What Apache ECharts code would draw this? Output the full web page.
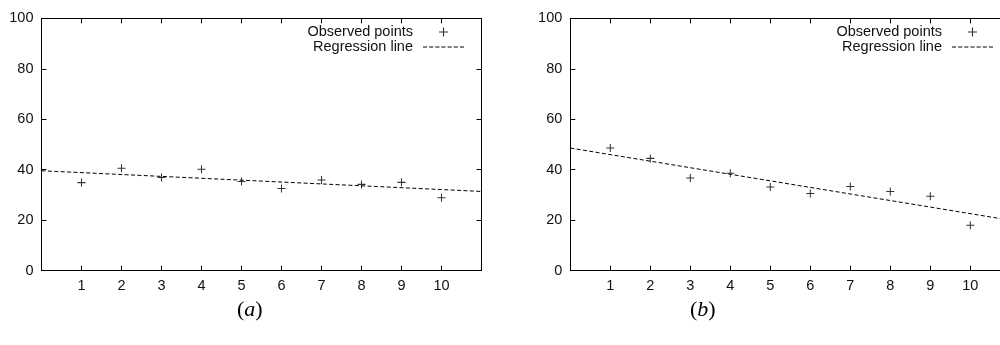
<!DOCTYPE html>
<html>
<head>
<meta charset="utf-8">
<script src="https://cdn.jsdelivr.net/npm/echarts@6/dist/echarts.min.js"></script>
<style>
html,body{margin:0;padding:0;background:#fff;}
#c{width:1000px;height:345px;}
</style>
</head>
<body>
<div id="c"></div>
<script>
// ---- data ----
var xValues = [1, 2, 3, 4, 5, 6, 7, 8, 9, 10];
var observedA = [34.9, 40.6, 36.9, 40.2, 35.3, 32.6, 35.9, 34.2, 35.0, 28.9];
var observedB = [48.6, 44.5, 36.7, 38.6, 33.2, 30.6, 33.4, 31.4, 29.5, 18.0];
var regressionA = [[0, 39.6], [11, 31.4]];
var regressionB = [[0, 48.6], [11, 20.0]];
var yTicks = [0, 20, 40, 60, 80, 100];
var xTickLabels = ['1','2','3','4','5','6','7','8','9','10'];
var captions = ['a', 'b'];
var legendNames = ['Observed points', 'Regression line'];

var FONT = 'Liberation Sans';
var plusPath = 'path://M4.35,0 h1.3 v4.35 h4.35 v1.3 h-4.35 v4.35 h-1.3 v-4.35 h-4.35 v-1.3 h4.35 z';
var dashPath = 'path://M0,0h4v1h-4z M6,0h4v1h-4z M12,0h4v1h-4z M18,0h4v1h-4z M24,0h4v1h-4z M30,0h4v1h-4z M36,0h4v1h-4z';

function pairs(vals) { return xValues.map(function (x, i) { return [x, vals[i]]; }); }

var grids = [
  { left: 41.5, top: 18.3, width: 440, height: 252.4, outerBoundsMode: 'none', containLabel: false },
  { left: 570.3, top: 18.3, width: 440, height: 252.4, outerBoundsMode: 'none', containLabel: false }
];

var xAxes = [], yAxes = [];
grids.forEach(function (g, gi) {
  ['bottom', 'top'].forEach(function (pos, k) {
    xAxes.push({
      type: 'value', gridIndex: gi, position: pos, min: 0, max: 11, interval: 1,
      axisLine: { show: true, onZero: false, lineStyle: { color: '#000', width: 1 } },
      axisTick: { show: true, inside: true, length: 5, lineStyle: { color: '#000' } },
      axisLabel: {
        show: k === 0, margin: 8, color: '#111', fontFamily: FONT, fontSize: 14.5,
        formatter: function (v) { var i = xValues.indexOf(v); return i >= 0 ? xTickLabels[i] : ''; }
      },
      splitLine: { show: false }
    });
  });
  ['left', 'right'].forEach(function (pos, k) {
    yAxes.push({
      type: 'value', gridIndex: gi, position: pos, min: yTicks[0], max: yTicks[yTicks.length - 1], interval: 20,
      axisLine: { show: true, onZero: false, lineStyle: { color: '#000', width: 1 } },
      axisTick: { show: true, inside: true, length: 5, lineStyle: { color: '#000' } },
      axisLabel: { show: k === 0, margin: 8, color: '#111', fontFamily: FONT, fontSize: 14.5 },
      splitLine: { show: false }
    });
  });
});

function scatterSeries(gi, vals) {
  return {
    name: legendNames[0], type: 'scatter', xAxisIndex: gi * 2, yAxisIndex: gi * 2,
    data: pairs(vals), symbol: plusPath, symbolSize: 8,
    itemStyle: { color: '#000' }, emphasis: { disabled: true }
  };
}
function lineSeries(gi, data) {
  return {
    name: legendNames[1], type: 'line', xAxisIndex: gi * 2, yAxisIndex: gi * 2,
    data: data, showSymbol: false, symbol: 'none',
    lineStyle: { color: '#000', width: 1, type: [4, 2.4] }, itemStyle: { color: '#000' },
    emphasis: { disabled: true }
  };
}

function legendAt(right) {
  return {
    orient: 'vertical', right: right, top: 24.5, align: 'right',
    itemWidth: 41, itemHeight: 9, itemGap: 0, padding: 0,
    textStyle: { fontFamily: FONT, fontSize: 14.5, lineHeight: 15, color: '#111', padding: [0, 5, 0, 0] },
    data: [
      { name: legendNames[0], icon: plusPath, itemStyle: { color: '#000' } },
      { name: legendNames[1], icon: dashPath, itemStyle: { color: '#000' } }
    ],
    selectedMode: false
  };
}

function caption(left, letter) {
  return {
    left: left, top: 294,
    text: '{p|(}{i|' + letter + '}{p|)}',
    textStyle: {
      fontWeight: 'normal',
      rich: {
        p: { fontFamily: 'Liberation Serif', fontWeight: 'normal', fontSize: 22, color: '#000' },
        i: { fontFamily: 'Liberation Serif', fontWeight: 'normal', fontStyle: 'italic', fontSize: 22, color: '#000' }
      }
    }
  };
}

var option = {
  animation: false,
  backgroundColor: '#fff',
  title: [caption(232, captions[0]), caption(685, captions[1])],
  legend: [legendAt(536), legendAt(7)],
  grid: grids,
  xAxis: xAxes,
  yAxis: yAxes,
  series: [
    lineSeries(0, regressionA), scatterSeries(0, observedA),
    lineSeries(1, regressionB), scatterSeries(1, observedB)
  ]
};

var chart = echarts.init(document.getElementById('c'), null, { renderer: 'canvas' });
chart.setOption(option);
</script>
</body>
</html>
